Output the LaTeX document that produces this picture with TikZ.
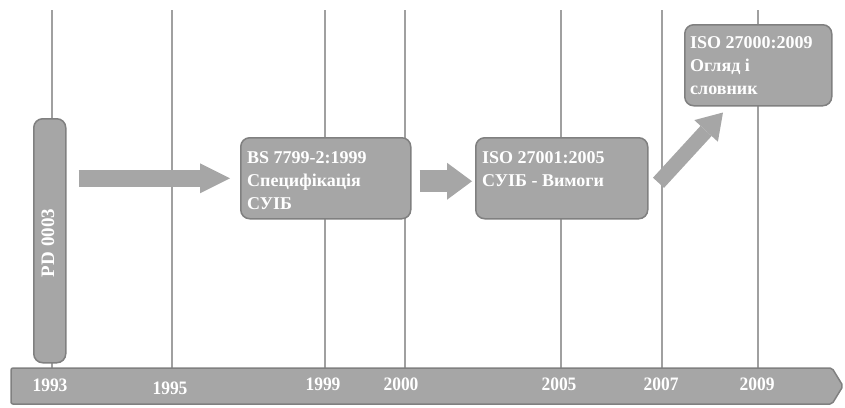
\documentclass[tikz,border=0pt]{standalone}
\usepackage{fontspec}
\setmainfont{Liberation Serif}
\newfontfamily\yearfont[FakeStretch=0.92]{Liberation Serif}
\usetikzlibrary{arrows.meta,calc}

\definecolor{boxfill}{HTML}{A6A6A6}
\definecolor{boxedge}{HTML}{808080}
\definecolor{gridline}{HTML}{A0A0A0}

\begin{document}
\begin{tikzpicture}[x=1pt,y=-1pt,
  card/.style={draw=boxedge, fill=boxfill, line width=1.5pt, rounded corners=9pt, inner sep=0pt},
  cardtext/.style={anchor=north west, inner sep=0pt, align=left, text=white,
    font=\fontsize{18}{23}\selectfont\bfseries},
  yearlabel/.style={anchor=base, inner sep=0pt, text=white,
    font=\yearfont\fontsize{19}{19}\selectfont\bfseries},
  gridrule/.style={draw=gridline, line width=1.6pt},
  flow/.style n args={3}{color=boxfill, line width=#1,
    -{Triangle[length=#2, width=#3, line width=0pt]}}
]
\useasboundingbox (0,0) rectangle (845,407);

% year rules
\foreach \yr/\xx in {1993/52, 1995/172, 1999/325, 2000/405, 2005/561, 2007/662, 2009/758}{
  \coordinate (top\yr) at (\xx,10);
  \coordinate (foot\yr) at (\xx,369);
  \draw[gridrule] (top\yr) -- (foot\yr);
}

% timeline bar
\coordinate (barnw) at (11,368);
\coordinate (barne) at (832,368);
\coordinate (bartip) at (843,386);
\coordinate (barse) at (832,404);
\coordinate (barsw) at (11,404);
\path[fill=boxfill, draw=boxedge, line width=1.5pt, rounded corners=2pt]
  (barnw) -- (barne) -- (bartip) -- (barse) -- (barsw) -- cycle;

% year labels
\node[yearlabel] (y1993) at (50,391) {1993};
\node[yearlabel] (y1995) at (170,394) {1995};
\node[yearlabel] (y1999) at (323,390) {1999};
\node[yearlabel] (y2000) at (401,390) {2000};
\node[yearlabel] (y2005) at (559,390) {2005};
\node[yearlabel] (y2007) at (661,390) {2007};
\node[yearlabel] (y2009) at (757,390) {2009};

% standards
\node[card, minimum width=32, minimum height=244, anchor=north west] (pd) at (33,118) {};
\node[text=white, inner sep=0pt, rotate=90, font=\fontsize{19}{19}\selectfont\bfseries]
  (pdtext) at (48,243) {PD 0003};

\node[card, minimum width=170, minimum height=81, anchor=north west] (bs) at (240,137) {};
\node[cardtext] (bstext) at (247,151) {BS 7799-2:1999\\Специфікація\\СУІБ};

\node[card, minimum width=172, minimum height=81, anchor=north west] (iso1) at (475,137) {};
\node[cardtext] (iso1text) at (482,151) {ISO 27001:2005\\СУІБ - Вимоги};

\node[card, minimum width=147, minimum height=81, anchor=north west] (iso0) at (684,24) {};
\node[cardtext] (iso0text) at (690,36) {ISO 27000:2009\\Огляд і\\словник};

% transitions
\draw[flow={17pt}{30pt}{30pt}] ([xshift=12pt]pd.east |- bs.west) -- ([xshift=-10pt]bs.west);
\draw[flow={22pt}{25pt}{37pt}] ([shift={(8,3)}]bs.east) -- ([shift={(-3,3)}]iso1.west);
\draw[flow={15pt}{25pt}{32pt}] ([shift={(10,4.5)}]iso1.east) -- ([shift={(39,6)}]iso0.south west);
\end{tikzpicture}
\end{document}
